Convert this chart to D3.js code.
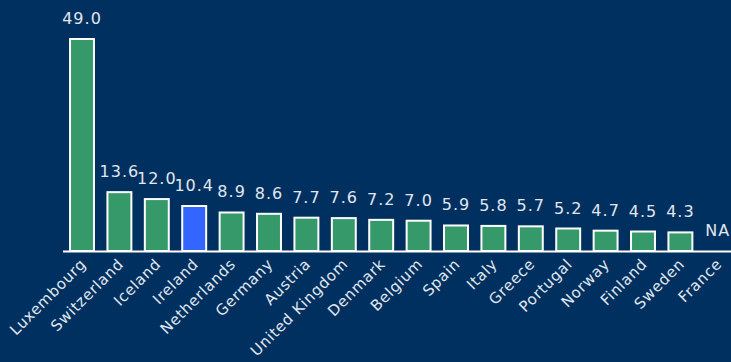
<!DOCTYPE html>
<html>
<head>
<meta charset="utf-8">
<script src="https://cdn.jsdelivr.net/npm/d3@7"></script>
<style>
    html, body { margin: 0; padding: 0; background: #00305f; }
    svg { display: block; }
    .val { font-family: "DejaVu Sans", sans-serif; font-size: 16px; fill: #e1e7ef; letter-spacing: 1px; }
    .cat { font-family: "DejaVu Sans", sans-serif; font-size: 15px; fill: #e1e7ef; letter-spacing: 0.7px; }
</style>
</head>
<body>
<div id="plot"></div>
<script>
// values; France has no value (NA)
let countries = ["Luxembourg", "Switzerland", "Iceland", "Ireland", "Netherlands", "Germany",
    "Austria", "United Kingdom", "Denmark", "Belgium", "Spain", "Italy", "Greece",
    "Portugal", "Norway", "Finland", "Sweden", "France"];
let values = [49.0, 13.6, 12.0, 10.4, 8.9, 8.6, 7.7, 7.6, 7.2, 7.0, 5.9, 5.8, 5.7, 5.2, 4.7, 4.5, 4.3, null];
let highlight = ["Ireland"];

let width = 731,
    height = 362,
    baseY = 251,
    green = "#36996a",
    blue = "#3366ff",
    white = "#ffffff";

let data = countries.map(function (c, i) {
    return { name: c, value: values[i] };
});

let svg = d3.select("#plot").append("svg")
    .attr("width", width)
    .attr("height", height);

svg.append("rect")
    .attr("width", width)
    .attr("height", height)
    .attr("fill", "#00305f");

let x = d3.scaleBand()
    .domain(countries)
    .range([63.3, 63.3 + 18 * 37.4])
    .paddingInner(0.36)
    .paddingOuter(0.18);

let y = d3.scaleLinear()
    .domain([0, 49])
    .range([baseY, 39]);

// bars
svg.selectAll(".bar")
    .data(data.filter(function (d) { return d.value !== null; }))
    .enter()
    .append("rect")
    .attr("class", "bar")
    .attr("x", function (d) { return x(d.name); })
    .attr("y", function (d) { return y(d.value); })
    .attr("width", x.bandwidth())
    .attr("height", function (d) { return baseY - y(d.value); })
    .attr("fill", function (d) { return highlight.indexOf(d.name) >= 0 ? blue : green; })
    .attr("stroke", white)
    .attr("stroke-width", 2);

// baseline
svg.append("line")
    .attr("x1", 63)
    .attr("x2", width)
    .attr("y1", baseY + 0.5)
    .attr("y2", baseY + 0.5)
    .attr("stroke", white)
    .attr("stroke-width", 2);

// value labels
svg.selectAll(".val")
    .data(data)
    .enter()
    .append("text")
    .attr("class", "val")
    .attr("text-anchor", "middle")
    .attr("x", function (d) { return x(d.name) + x.bandwidth() / 2; })
    .attr("y", function (d) { return (d.value === null ? baseY : y(d.value)) - 15; })
    .text(function (d) { return d.value === null ? "NA" : d.value.toFixed(1); });

// category labels
svg.selectAll(".cat")
    .data(countries)
    .enter()
    .append("text")
    .attr("class", "cat")
    .attr("text-anchor", "end")
    .attr("transform", function (d) {
        return "translate(" + (x(d) + x.bandwidth() / 2 + 5) + "," + (baseY + 14) + ") rotate(-45)";
    })
    .text(function (d) { return d; });
</script>
</body>
</html>
